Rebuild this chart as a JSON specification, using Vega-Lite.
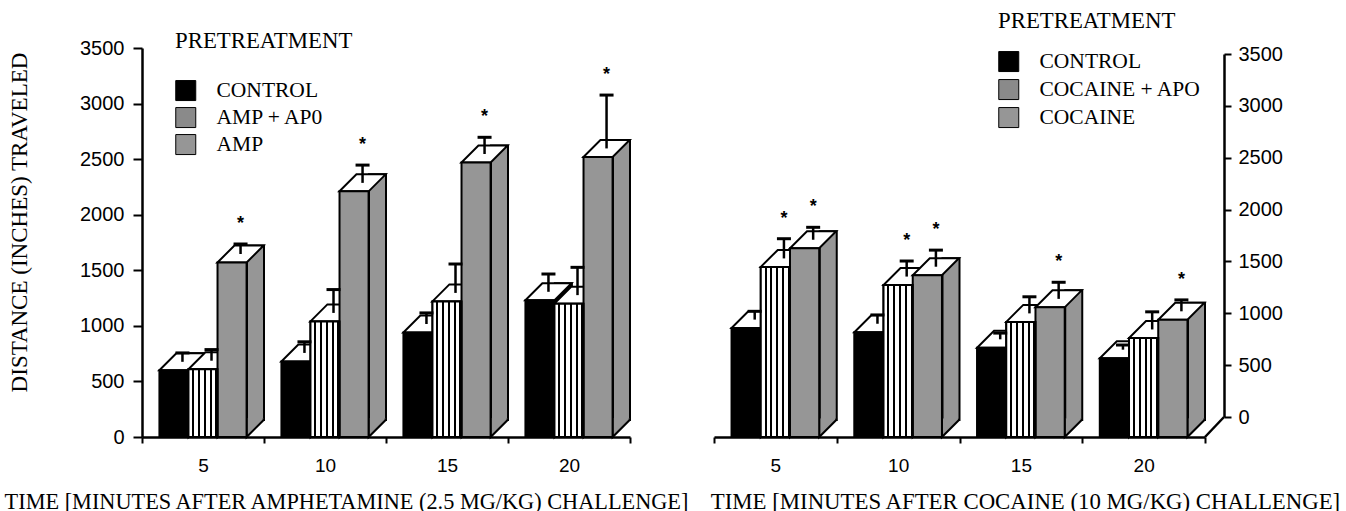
{
  "$schema": "https://vega.github.io/schema/vega-lite/v6.json",
  "padding": {"left": 2, "top": 10, "right": 0, "bottom": 0},
  "background": "white",
  "datasets": {
    "amp": [
      {"time": "5", "pre": "CONTROL", "mean": 600, "errTop": 680, "star": false},
      {"time": "5", "pre": "AMP + AP0", "mean": 610, "errTop": 710, "star": false},
      {"time": "5", "pre": "AMP", "mean": 1570, "errTop": 1660, "star": true},
      {"time": "10", "pre": "CONTROL", "mean": 680, "errTop": 780, "star": false},
      {"time": "10", "pre": "AMP + AP0", "mean": 1040, "errTop": 1250, "star": false},
      {"time": "10", "pre": "AMP", "mean": 2210, "errTop": 2370, "star": true},
      {"time": "15", "pre": "CONTROL", "mean": 940, "errTop": 1040, "star": false},
      {"time": "15", "pre": "AMP + AP0", "mean": 1220, "errTop": 1480, "star": false},
      {"time": "15", "pre": "AMP", "mean": 2470, "errTop": 2620, "star": true},
      {"time": "20", "pre": "CONTROL", "mean": 1230, "errTop": 1390, "star": false},
      {"time": "20", "pre": "AMP + AP0", "mean": 1200, "errTop": 1450, "star": false},
      {"time": "20", "pre": "AMP", "mean": 2520, "errTop": 3000, "star": true}
    ],
    "coc": [
      {"time": "5", "pre": "CONTROL", "mean": 1050, "errTop": 1130, "star": false},
      {"time": "5", "pre": "COCAINE + APO", "mean": 1640, "errTop": 1830, "star": true},
      {"time": "5", "pre": "COCAINE", "mean": 1820, "errTop": 1940, "star": true},
      {"time": "10", "pre": "CONTROL", "mean": 1010, "errTop": 1095, "star": false},
      {"time": "10", "pre": "COCAINE + APO", "mean": 1465, "errTop": 1615, "star": true},
      {"time": "10", "pre": "COCAINE", "mean": 1560, "errTop": 1720, "star": true},
      {"time": "15", "pre": "CONTROL", "mean": 860, "errTop": 920, "star": false},
      {"time": "15", "pre": "COCAINE + APO", "mean": 1110, "errTop": 1270, "star": false},
      {"time": "15", "pre": "COCAINE", "mean": 1250, "errTop": 1410, "star": true},
      {"time": "20", "pre": "CONTROL", "mean": 760, "errTop": 805, "star": false},
      {"time": "20", "pre": "COCAINE + APO", "mean": 955, "errTop": 1125, "star": false},
      {"time": "20", "pre": "COCAINE", "mean": 1130, "errTop": 1240, "star": true}
    ]
  },
  "config": {
    "view": {"stroke": null},
    "axis": {"grid": false, "domainColor": "black", "tickColor": "black", "labelColor": "black", "titleColor": "black", "domainWidth": 2.5, "tickWidth": 2},
    "legend": {"titleColor": "black", "labelColor": "black", "labelLimit": 400}
  },
  "resolve": {"scale": {"x": "independent", "y": "independent", "xOffset": "independent", "fill": "independent"}, "legend": {"fill": "independent"}},
  "bounds": "flush",
  "spacing": 84,
  "hconcat": [
    {
      "width": 488,
      "height": 389,
      "data": {"name": "amp"},
      "resolve": {"scale": {"xOffset": "independent"}},
      "encoding": {
        "x": {"field": "time", "type": "ordinal", "sort": ["5", "10", "15", "20"], "scale": {"paddingInner": 0, "paddingOuter": 0},
          "axis": {"title": "TIME [MINUTES AFTER AMPHETAMINE (2.5 MG/KG) CHALLENGE]", "labelAngle": 0, "tickBand": "extent", "tickSize": 6, "labelPadding": 13, "labelFont": "Liberation Sans", "labelFontSize": 19, "titleFont": "Liberation Serif", "titleFontSize": 22.3, "titleFontWeight": "normal", "titleX": 204, "titleY": 71, "titleAlign": "center", "titleBaseline": "alphabetic", "zindex": 1}}
      },
      "layer": [
        {
          "mark": {"type": "bar", "stroke": "black", "strokeWidth": 2, "yOffset": -17, "y2Offset": -17},
          "encoding": {
            "xOffset": {"field": "pre", "type": "nominal", "scale": {"type": "band", "domain": ["CONTROL", "AMP + AP0", "AMP"], "paddingInner": 0.4148, "paddingOuter": 0.8074, "align": 1}},
            "y": {"field": "mean", "type": "quantitative"},
            "y2": {"datum": 0},
            "fill": {"condition": {"test": "datum.pre === 'CONTROL'", "value": "#000000"}, "value": "#969696"}
          }
        },
        {
          "mark": {"type": "point", "shape": "M 1.46,-1.85 L 1.46,0 L 3.16,-1.7 L 3.16,-1.85", "size": 400, "filled": true, "opacity": 1, "stroke": "black", "strokeWidth": 2},
          "encoding": {
            "xOffset": {"field": "pre", "type": "nominal", "scale": {"type": "band", "domain": ["CONTROL", "AMP + AP0", "AMP"], "paddingInner": 0, "paddingOuter": 0.6}},
            "y": {"datum": 0, "type": "quantitative"},
            "fill": {"condition": {"test": "datum.pre === 'CONTROL'", "value": "#000000"}, "value": "#969696"}
          }
        },
        {
          "mark": {"type": "point", "shape": "M -1.46,0 L 1.46,0 L 3.16,-1.7 L 0.24,-1.7 Z", "size": 400, "filled": true, "opacity": 1, "fill": "white", "stroke": "black", "strokeWidth": 2},
          "encoding": {
            "xOffset": {"field": "pre", "type": "nominal", "scale": {"type": "band", "domain": ["CONTROL", "AMP + AP0", "AMP"], "paddingInner": 0, "paddingOuter": 0.6}},
            "y": {"field": "mean", "type": "quantitative"}
          }
        },
        {
          "mark": {"type": "bar", "stroke": "black", "strokeWidth": 2},
          "encoding": {
            "xOffset": {"field": "pre", "type": "nominal", "scale": {"type": "band", "domain": ["CONTROL", "AMP + AP0", "AMP"], "paddingInner": 0, "paddingOuter": 0.6}},
            "y": {"field": "mean", "type": "quantitative", "scale": {"domain": [0, 3500], "nice": false},
              "axis": {"title": "DISTANCE (INCHES) TRAVELED", "values": [0, 250, 500, 750, 1000, 1250, 1500, 1750, 2000, 2250, 2500, 2750, 3000, 3250, 3500], "format": "d", "labelExpr": "datum.value % 500 === 0 ? datum.label : ''", "tickSize": {"condition": {"test": "datum.value % 500 === 0", "value": 9}, "value": 5}, "labelPadding": 9, "labelFont": "Liberation Sans", "labelFontSize": 20, "titleFont": "Liberation Serif", "titleFontSize": 23, "titleFontWeight": "normal", "titleAngle": -90, "titleX": -123, "titleY": 174, "titleAlign": "center", "titleBaseline": "middle"}},
            "fill": {"field": "pre", "type": "nominal", "scale": {"domain": ["CONTROL", "AMP + AP0", "AMP"], "range": ["#000000", "#8a8a8a", "#969696"]},
              "legend": {"orient": "none", "legendX": 33, "legendY": -18, "title": "PRETREATMENT", "titleFont": "Liberation Serif", "titleFontSize": 22.8, "titleFontWeight": "normal", "labelFont": "Liberation Serif", "labelFontSize": 21.5, "symbolType": "square", "symbolSize": 400, "symbolStrokeColor": "black", "symbolStrokeWidth": 1, "symbolOpacity": 1, "labelOffset": 20, "rowPadding": 2, "titlePadding": 27}}
          }
        },
        {
          "transform": [{"filter": "datum.pre === 'AMP + AP0'"}],
          "mark": {"type": "bar", "stroke": "black", "strokeWidth": 2, "fill": {"gradient": "linear", "x1": 0, "y1": 0, "x2": 1, "y2": 0, "stops": [
            {"offset": 0, "color": "white"}, {"offset": 0.13, "color": "white"}, {"offset": 0.13, "color": "black"}, {"offset": 0.2, "color": "black"},
            {"offset": 0.2, "color": "white"}, {"offset": 0.33, "color": "white"}, {"offset": 0.33, "color": "black"}, {"offset": 0.4, "color": "black"},
            {"offset": 0.4, "color": "white"}, {"offset": 0.53, "color": "white"}, {"offset": 0.53, "color": "black"}, {"offset": 0.6, "color": "black"},
            {"offset": 0.6, "color": "white"}, {"offset": 0.73, "color": "white"}, {"offset": 0.73, "color": "black"}, {"offset": 0.8, "color": "black"},
            {"offset": 0.8, "color": "white"}, {"offset": 0.93, "color": "white"}, {"offset": 0.93, "color": "black"}, {"offset": 1, "color": "black"}]}},
          "encoding": {
            "xOffset": {"field": "pre", "type": "nominal", "scale": {"type": "band", "domain": ["CONTROL", "AMP + AP0", "AMP"], "paddingInner": 0, "paddingOuter": 0.6}},
            "y": {"field": "mean", "type": "quantitative"}
          }
        },
        {
          "mark": {"type": "rule", "yOffset": -8.5, "y2Offset": -8.5, "strokeWidth": 2.5, "color": "black"},
          "encoding": {
            "xOffset": {"field": "pre", "type": "nominal", "scale": {"type": "band", "domain": ["CONTROL", "AMP + AP0", "AMP"], "paddingInner": 0, "paddingOuter": 0.6, "align": 0.744}},
            "y": {"field": "mean", "type": "quantitative"},
            "y2": {"field": "errTop"}
          }
        },
        {
          "mark": {"type": "point", "shape": "M -1,0 L 1,0", "size": 196, "filled": false, "opacity": 1, "stroke": "black", "strokeWidth": 3, "yOffset": -8.5},
          "encoding": {
            "xOffset": {"field": "pre", "type": "nominal", "scale": {"type": "band", "domain": ["CONTROL", "AMP + AP0", "AMP"], "paddingInner": 0, "paddingOuter": 0.6, "align": 0.744}},
            "y": {"field": "errTop", "type": "quantitative"}
          }
        },
        {
          "transform": [{"filter": "datum.star"}],
          "mark": {"type": "text", "text": "*", "font": "Liberation Sans", "fontWeight": "bold", "fontSize": 18, "baseline": "middle", "align": "center", "color": "black", "yOffset": -8.5, "dy": -20},
          "encoding": {
            "xOffset": {"field": "pre", "type": "nominal", "scale": {"type": "band", "domain": ["CONTROL", "AMP + AP0", "AMP"], "paddingInner": 0, "paddingOuter": 0.6, "align": 0.744}},
            "y": {"field": "errTop", "type": "quantitative"}
          }
        }
      ]
    },
    {
      "width": 491,
      "height": 389,
      "data": {"name": "coc"},
      "resolve": {"scale": {"xOffset": "independent"}},
      "encoding": {
        "x": {"field": "time", "type": "ordinal", "sort": ["5", "10", "15", "20"], "scale": {"paddingInner": 0, "paddingOuter": 0},
          "axis": {"title": "TIME [MINUTES AFTER COCAINE (10 MG/KG) CHALLENGE]", "labelAngle": 0, "tickBand": "extent", "tickSize": 6, "labelPadding": 13, "labelFont": "Liberation Sans", "labelFontSize": 19, "titleFont": "Liberation Serif", "titleFontSize": 22.8, "titleFontWeight": "normal", "titleX": 311, "titleY": 71, "titleAlign": "center", "titleBaseline": "alphabetic", "zindex": 1}}
      },
      "layer": [
        {
          "mark": {"type": "bar", "stroke": "black", "strokeWidth": 2, "yOffset": -17, "y2Offset": -17},
          "encoding": {
            "xOffset": {"field": "pre", "type": "nominal", "scale": {"type": "band", "domain": ["CONTROL", "COCAINE + APO", "COCAINE"], "paddingInner": 0.4183, "paddingOuter": 0.809, "align": 1}},
            "y": {"field": "mean", "type": "quantitative"},
            "y2": {"datum": 0},
            "fill": {"condition": {"test": "datum.pre === 'CONTROL'", "value": "#000000"}, "value": "#969696"}
          }
        },
        {
          "mark": {"type": "point", "shape": "M 1.46,-1.85 L 1.46,0 L 3.16,-1.7 L 3.16,-1.85", "size": 400, "filled": true, "opacity": 1, "stroke": "black", "strokeWidth": 2},
          "encoding": {
            "xOffset": {"field": "pre", "type": "nominal", "scale": {"type": "band", "domain": ["CONTROL", "COCAINE + APO", "COCAINE"], "paddingInner": 0, "paddingOuter": 0.6}},
            "y": {"datum": 0, "type": "quantitative"},
            "fill": {"condition": {"test": "datum.pre === 'CONTROL'", "value": "#000000"}, "value": "#969696"}
          }
        },
        {
          "transform": [{"filter": "datum.time === '20' && datum.pre === 'COCAINE'"}],
          "mark": {"type": "point", "shape": "M 3.215,0 L 5.115,-2.0", "size": 400, "filled": false, "opacity": 1, "stroke": "black", "strokeWidth": 2.5},
          "encoding": {
            "xOffset": {"field": "pre", "type": "nominal", "scale": {"type": "band", "domain": ["CONTROL", "COCAINE + APO", "COCAINE"], "paddingInner": 0, "paddingOuter": 0.6}},
            "y": {"datum": 0, "type": "quantitative"}
          }
        },
        {
          "mark": {"type": "point", "shape": "M -1.46,0 L 1.46,0 L 3.16,-1.7 L 0.24,-1.7 Z", "size": 400, "filled": true, "opacity": 1, "fill": "white", "stroke": "black", "strokeWidth": 2},
          "encoding": {
            "xOffset": {"field": "pre", "type": "nominal", "scale": {"type": "band", "domain": ["CONTROL", "COCAINE + APO", "COCAINE"], "paddingInner": 0, "paddingOuter": 0.6}},
            "y": {"field": "mean", "type": "quantitative"}
          }
        },
        {
          "mark": {"type": "bar", "stroke": "black", "strokeWidth": 2},
          "encoding": {
            "xOffset": {"field": "pre", "type": "nominal", "scale": {"type": "band", "domain": ["CONTROL", "COCAINE + APO", "COCAINE"], "paddingInner": 0, "paddingOuter": 0.6}},
            "y": {"field": "mean", "type": "quantitative", "scale": {"domain": [0, 3751], "nice": false},
              "axis": {"title": null, "orient": "right", "values": [0, 250, 500, 750, 1000, 1250, 1500, 1750, 2000, 2250, 2500, 2750, 3000, 3250, 3500], "format": "d", "labelExpr": "datum.value % 500 === 0 ? datum.label : ''", "tickSize": {"condition": {"test": "datum.value % 500 === 0", "value": 7}, "value": 4}, "labelPadding": 7, "labelFont": "Liberation Sans", "labelFontSize": 20, "translate": -19.5, "offset": 39, "domainDash": [363, 100]}},
            "fill": {"field": "pre", "type": "nominal", "scale": {"domain": ["CONTROL", "COCAINE + APO", "COCAINE"], "range": ["#000000", "#8a8a8a", "#969696"]},
              "legend": {"orient": "none", "legendX": 284, "legendY": -38, "title": "PRETREATMENT", "titleFont": "Liberation Serif", "titleFontSize": 22.8, "titleFontWeight": "normal", "labelFont": "Liberation Serif", "labelFontSize": 21.5, "symbolType": "square", "symbolSize": 400, "symbolStrokeColor": "black", "symbolStrokeWidth": 1, "symbolOpacity": 1, "labelOffset": 20, "rowPadding": 3, "titlePadding": 18}}
          }
        },
        {
          "transform": [{"filter": "datum.pre === 'COCAINE + APO'"}],
          "mark": {"type": "bar", "stroke": "black", "strokeWidth": 2, "fill": {"gradient": "linear", "x1": 0, "y1": 0, "x2": 1, "y2": 0, "stops": [
            {"offset": 0, "color": "white"}, {"offset": 0.13, "color": "white"}, {"offset": 0.13, "color": "black"}, {"offset": 0.2, "color": "black"},
            {"offset": 0.2, "color": "white"}, {"offset": 0.33, "color": "white"}, {"offset": 0.33, "color": "black"}, {"offset": 0.4, "color": "black"},
            {"offset": 0.4, "color": "white"}, {"offset": 0.53, "color": "white"}, {"offset": 0.53, "color": "black"}, {"offset": 0.6, "color": "black"},
            {"offset": 0.6, "color": "white"}, {"offset": 0.73, "color": "white"}, {"offset": 0.73, "color": "black"}, {"offset": 0.8, "color": "black"},
            {"offset": 0.8, "color": "white"}, {"offset": 0.93, "color": "white"}, {"offset": 0.93, "color": "black"}, {"offset": 1, "color": "black"}]}},
          "encoding": {
            "xOffset": {"field": "pre", "type": "nominal", "scale": {"type": "band", "domain": ["CONTROL", "COCAINE + APO", "COCAINE"], "paddingInner": 0, "paddingOuter": 0.6}},
            "y": {"field": "mean", "type": "quantitative"}
          }
        },
        {
          "mark": {"type": "rule", "yOffset": -8.5, "y2Offset": -8.5, "strokeWidth": 2.5, "color": "black"},
          "encoding": {
            "xOffset": {"field": "pre", "type": "nominal", "scale": {"type": "band", "domain": ["CONTROL", "COCAINE + APO", "COCAINE"], "paddingInner": 0, "paddingOuter": 0.6, "align": 0.744}},
            "y": {"field": "mean", "type": "quantitative"},
            "y2": {"field": "errTop"}
          }
        },
        {
          "mark": {"type": "point", "shape": "M -1,0 L 1,0", "size": 196, "filled": false, "opacity": 1, "stroke": "black", "strokeWidth": 3, "yOffset": -8.5},
          "encoding": {
            "xOffset": {"field": "pre", "type": "nominal", "scale": {"type": "band", "domain": ["CONTROL", "COCAINE + APO", "COCAINE"], "paddingInner": 0, "paddingOuter": 0.6, "align": 0.744}},
            "y": {"field": "errTop", "type": "quantitative"}
          }
        },
        {
          "transform": [{"filter": "datum.star"}],
          "mark": {"type": "text", "text": "*", "font": "Liberation Sans", "fontWeight": "bold", "fontSize": 18, "baseline": "middle", "align": "center", "color": "black", "yOffset": -8.5, "dy": -20},
          "encoding": {
            "xOffset": {"field": "pre", "type": "nominal", "scale": {"type": "band", "domain": ["CONTROL", "COCAINE + APO", "COCAINE"], "paddingInner": 0, "paddingOuter": 0.6, "align": 0.744}},
            "y": {"field": "errTop", "type": "quantitative"}
          }
        }
      ]
    }
  ]
}
